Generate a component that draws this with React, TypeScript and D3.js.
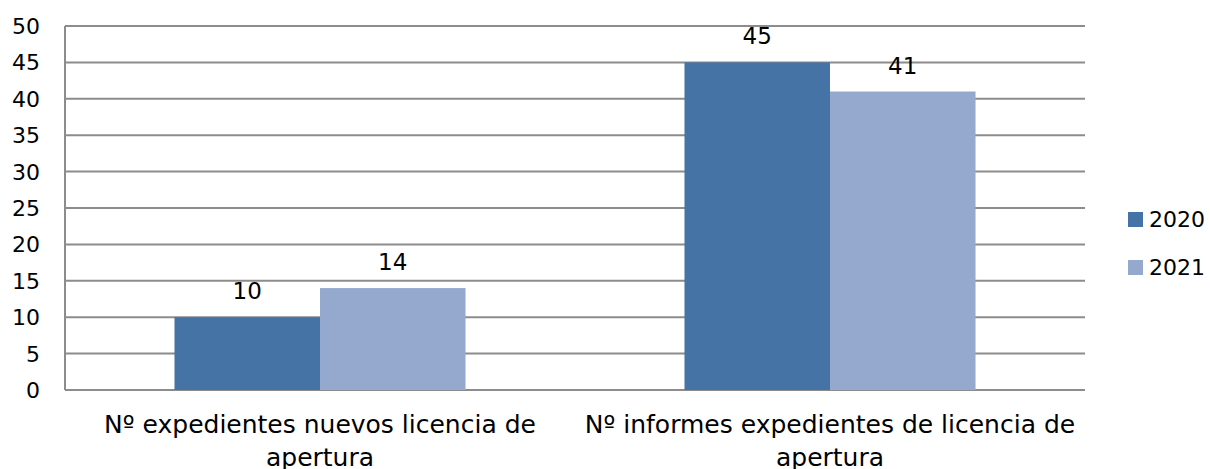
import React from "react";
import * as d3 from "d3";

const categories = ["Nº expedientes nuevos licencia de apertura", "Nº informes expedientes de licencia de apertura"];
const categoryLines = [["Nº expedientes nuevos licencia de", "apertura"], ["Nº informes expedientes de licencia de", "apertura"]];
const seriesNames = ["2020", "2021"];
const values2020 = [10, 45];
const values2021 = [14, 41];
const yTicks = [0, 5, 10, 15, 20, 25, 30, 35, 40, 45, 50];
const colors = ["#4673A6", "#95A9CF"];

export default function App() {
  const W = 1210, H = 469;
  const left = 65, right = 1085, top = 26, bottom = 390;
  const font = "'DejaVu Sans', sans-serif";
  const y = d3.scaleLinear().domain([0, 50]).range([bottom, top]);
  const x0 = d3.scaleBand().domain(categories).range([left, right]).paddingInner(0).paddingOuter(0);
  const inner = d3.scaleBand().domain(seriesNames).range([0, x0.bandwidth()]).paddingInner(0).paddingOuter(0.7524);
  const series = [values2020, values2021];
  return (
    <svg width={W} height={H} style={{ position: "absolute", left: 0, top: 0 }} fontFamily={font}>
      {yTicks.map(t => (
        <g key={t}>
          <line x1={left} x2={right} y1={y(t)} y2={y(t)} stroke="#8c8c8c" strokeWidth={2} />
          <text x={40} y={y(t) + 8} textAnchor="end" fontSize={22} fill="#000">{t}</text>
        </g>
      ))}
      <line x1={left} x2={left} y1={top} y2={bottom} stroke="#8c8c8c" strokeWidth={2} />
      {categories.map((c, ci) => (
        <g key={c}>
          {seriesNames.map((s, si) => {
            const v = series[si][ci];
            const bx = (x0(c) as number) + (inner(s) as number);
            return (
              <g key={s}>
                <rect x={bx} y={y(v)} width={inner.bandwidth()} height={bottom - y(v)} fill={colors[si]} />
                <text x={bx + inner.bandwidth() / 2} y={y(v) - 18} textAnchor="middle" fontSize={23} fill="#000">{v}</text>
              </g>
            );
          })}
          {categoryLines[ci].map((ln, li) => (
            <text key={li} x={(x0(c) as number) + x0.bandwidth() / 2} y={433 + li * 33} textAnchor="middle" fontSize={25} fill="#000">{ln}</text>
          ))}
        </g>
      ))}
      {seriesNames.map((s, si) => (
        <g key={s}>
          <rect x={1128} y={212 + si * 48} width={15} height={15} fill={colors[si]} />
          <text x={1149} y={227 + si * 48} fontSize={22} fill="#000">{s}</text>
        </g>
      ))}
    </svg>
  );
}
